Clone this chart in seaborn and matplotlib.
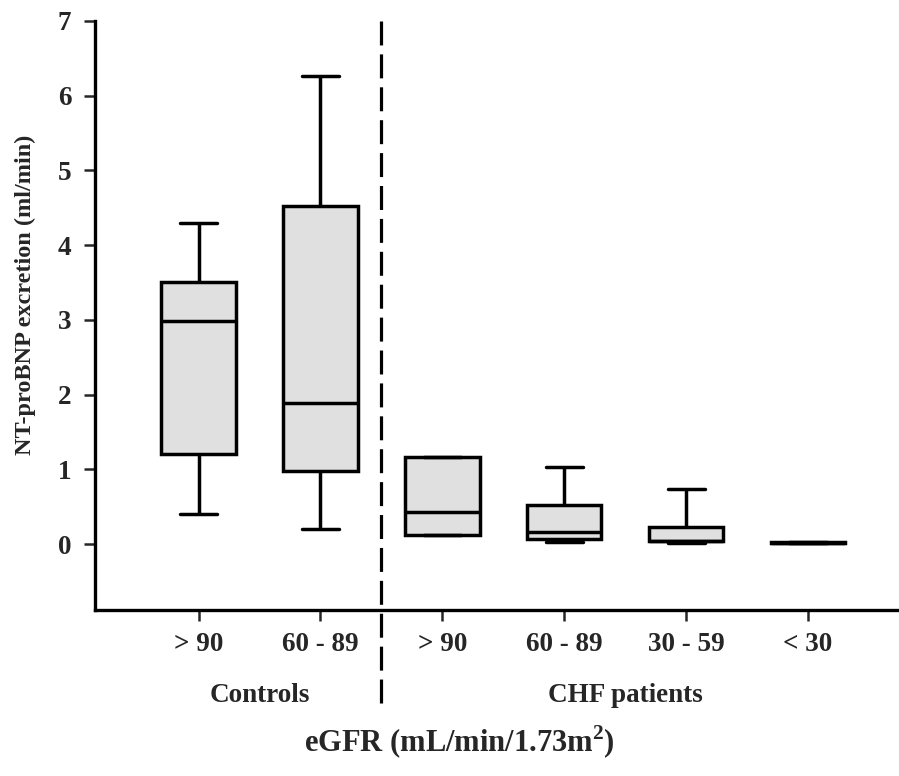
import numpy as np
import pandas as pd
import matplotlib
matplotlib.use("Agg")
import matplotlib.pyplot as plt
import seaborn as sns

# Values (five-number summary per group)
groups = ["Controls >90", "Controls 60-89", "CHF >90", "CHF 60-89", "CHF 30-59", "CHF <30"]
tick_labels = ["> 90", "60 - 89", "> 90", "60 - 89", "30 - 59", "< 30"]
whisker_low = [0.40, 0.20, 0.12, 0.03, 0.02, 0.01]
q1 = [1.21, 0.98, 0.12, 0.07, 0.04, 0.01]
median = [2.98, 1.89, 0.43, 0.16, 0.04, 0.02]
q3 = [3.51, 4.52, 1.16, 0.52, 0.23, 0.03]
whisker_high = [4.30, 6.27, 1.16, 1.03, 0.74, 0.03]
cohorts = ["Controls", "CHF patients"]

# five points per group -> quartiles land exactly on the summary values
rows = []
for i, g in enumerate(groups):
    for v in [whisker_low[i], q1[i], median[i], q3[i], whisker_high[i]]:
        rows.append({"group": g, "value": v})
df = pd.DataFrame(rows)

sns.set_style("white")
plt.rcParams['font.family'] = ['Liberation Serif', 'DejaVu Serif']
plt.rcParams['font.weight'] = 'bold'
plt.rcParams['mathtext.fontset'] = 'custom'
plt.rcParams['mathtext.rm'] = 'Liberation Serif:bold'
plt.rcParams['mathtext.bf'] = 'Liberation Serif:bold'

fig = plt.figure(figsize=(8.99, 7.76), dpi=100)
ax = fig.add_axes([0.1057, 0.214, 0.892, 0.759])

sns.boxplot(data=df, x="group", y="value", order=groups, ax=ax,
            color="#e0e0e0", saturation=1, linecolor="black", linewidth=2.5,
            width=0.61, whis=(0, 100), fliersize=0)

ax.set_xlim(-0.85, 5.73)
ax.set_ylim(-0.88, 7)
ax.set_yticks(range(0, 8))
ax.set_xticks(range(len(groups)))
ax.set_xticklabels(tick_labels, fontsize=19.5, fontweight='bold')
ax.tick_params(axis='x', length=8, width=1.8, direction='out', pad=8, bottom=True)
ax.tick_params(axis='y', length=8, width=1.8, direction='out', labelsize=19.5, pad=9, left=True)
for lab in ax.get_yticklabels():
    lab.set_fontweight('bold')

for s in ["top", "right"]:
    ax.spines[s].set_visible(False)
for s in ["left", "bottom"]:
    ax.spines[s].set_linewidth(2.4)
    ax.spines[s].set_color("black")

ax.set_xlabel("")
ax.set_ylabel("NT-proBNP excretion (ml/min)", fontsize=17.5, fontweight='bold')
ax.yaxis.set_label_coords(-0.074, 0.535)

# separator between controls and CHF patients
ax.plot([1.5, 1.5], [7, -2.22], color="black", lw=2.3, ls=(0, (7.5, 2.8)), clip_on=False)

# cohort labels under the ticks
ax.text(0.5, -2.02, cohorts[0], ha="center", va="center", fontsize=19.5, fontweight='bold')
ax.text(3.5, -2.02, cohorts[1], ha="center", va="center", fontsize=19.5, fontweight='bold')

fig.text(0.511, 0.043, r"eGFR (mL/min/1.73m$^{\mathbf{2}}$)", ha="center", va="center",
         fontsize=22, fontweight='bold')

fig.savefig("out.png", dpi=100)
